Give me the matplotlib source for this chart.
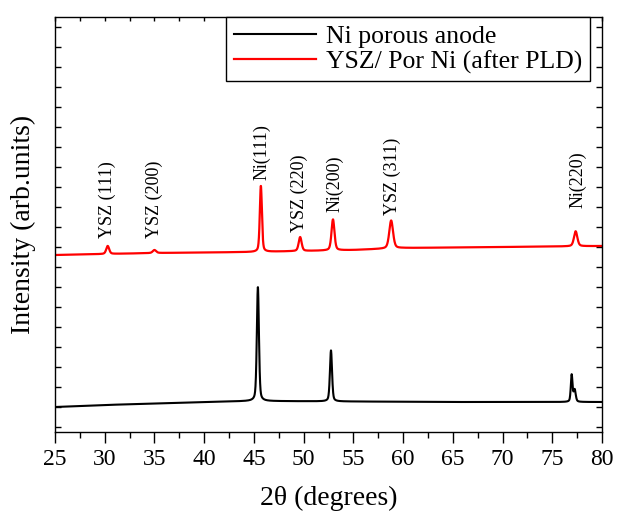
import matplotlib.pyplot as plt
import numpy as np
from matplotlib.ticker import MultipleLocator

plt.rcParams['font.family'] = ['Liberation Serif', 'DejaVu Serif']

# 2-theta range
two_theta_min, two_theta_max = 25, 80

# Ni porous anode: baseline knots and peaks (position, height, FWHM)
ni_base_x = [25, 30, 35, 40, 45, 55, 65, 80]
ni_base_y = [25, 27, 28.5, 30, 31, 30.5, 30, 30]
ni_peak_pos = [45.4, 52.75, 76.95, 77.25]
ni_peak_height = [114, 51, 27, 12]
ni_peak_fwhm = [0.25, 0.25, 0.2, 0.25]

# YSZ / Por Ni after PLD: baseline knots and peaks
ysz_base_x = [25, 35, 45, 50, 55, 60, 70, 80]
ysz_base_y = [177, 179, 180, 181, 182, 184, 185, 186]
ysz_peak_pos = [30.3, 35.0, 45.7, 49.65, 52.95, 58.8, 77.35]
ysz_peak_height = [8, 3, 66, 14, 31, 28, 15]
ysz_peak_fwhm = [0.35, 0.4, 0.25, 0.35, 0.35, 0.45, 0.4]

# peak labels (text, x position, bottom of text)
label_text = ['YSZ (111)', 'YSZ (200)', 'Ni(111)', 'YSZ (220)',
              'Ni(200)', 'YSZ (311)', 'Ni(220)']
label_x = [30.3, 34.95, 45.75, 49.6, 53.1, 58.9, 77.55]
label_y = [194, 194, 252, 200, 220, 217, 224]


def pattern(x, base_x, base_y, pos, height, fwhm):
    y = np.interp(x, base_x, base_y)
    for p, h, w in zip(pos, height, fwhm):
        g = np.exp(-4 * np.log(2) * ((x - p) / w) ** 2)
        lz = 1 / (1 + 4 * ((x - p) / w) ** 2)
        y = y + h * (0.6 * g + 0.4 * lz)
    return y


x = np.linspace(two_theta_min, two_theta_max, 4001)
ni_y = pattern(x, ni_base_x, ni_base_y, ni_peak_pos, ni_peak_height, ni_peak_fwhm)
ysz_y = pattern(x, ysz_base_x, ysz_base_y, ysz_peak_pos, ysz_peak_height, ysz_peak_fwhm)

fig = plt.figure(figsize=(6.17, 5.16), dpi=100)
ax = fig.add_axes([55 / 617, 84 / 516, 547 / 617, 415 / 516])

ax.plot(x, ni_y, color='black', linewidth=1.5, label='Ni porous anode')
ax.plot(x, ysz_y, color='#ff0000', linewidth=1.6, label='YSZ/ Por Ni (after PLD)')

for t, lx, ly in zip(label_text, label_x, label_y):
    ax.text(lx, ly, t, rotation=90, ha='center', va='bottom', fontsize=13)

ax.set_xlim(two_theta_min, two_theta_max)
ax.set_ylim(0, 415)
ax.xaxis.set_major_locator(MultipleLocator(5))
ax.xaxis.set_minor_locator(MultipleLocator(2.5))
ax.set_yticks(np.arange(5, 415, 20))
ax.set_yticklabels([])

ax.tick_params(axis='x', which='major', direction='out', length=8, width=1,
               labelsize=17, pad=4)
ax.tick_params(axis='x', which='minor', direction='out', length=4, width=1)
ax.tick_params(axis='x', which='both', top=True)
ax.tick_params(axis='y', which='major', direction='in', length=4, width=1,
               left=True, right=True)

# top ticks point inward
for tk in ax.xaxis.get_major_ticks() + ax.xaxis.get_minor_ticks():
    tk.tick2line.set_marker(3)
    tk.tick2line.set_markersize(3)

for s in ax.spines.values():
    s.set_linewidth(1)

ax.set_xlabel('2θ (degrees)', fontsize=20, labelpad=12)
ax.set_ylabel('Intensity (arb.units)', fontsize=20, labelpad=10)

leg = ax.legend(loc='upper right', bbox_to_anchor=(1 - 12 / 547, 1.0),
                borderaxespad=0, fontsize=18.5, frameon=True, fancybox=False,
                edgecolor='black', framealpha=1, handlelength=3.2,
                handletextpad=0.4, labelspacing=0.1, borderpad=0.3)
leg.get_frame().set_linewidth(1)

fig.savefig('out.png', dpi=100)
